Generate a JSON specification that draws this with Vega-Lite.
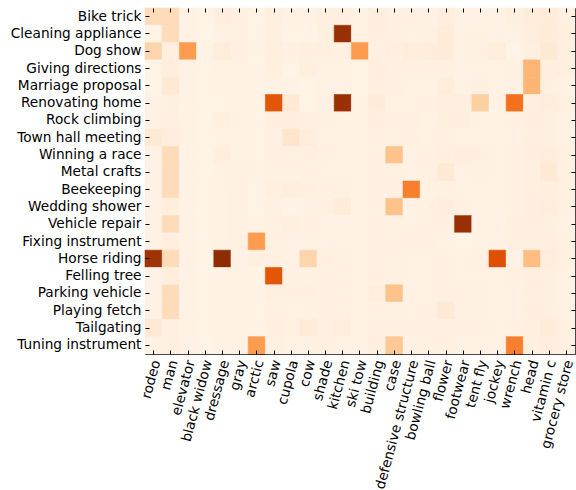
{
  "$schema": "https://vega.github.io/schema/vega-lite/v6.json",
  "width": 430,
  "height": 346,
  "autosize": "none",
  "padding": {"left": 145, "top": 8, "right": 1, "bottom": 136},
  "background": "white",
  "config": {
    "view": {"stroke": "black", "strokeWidth": 1},
    "axis": {"labelFont": "DejaVu Sans", "labelFontSize": 13.7, "labelColor": "black", "tickColor": "black", "tickSize": -4, "tickWidth": 1, "domain": false, "grid": false, "title": null, "labelOverlap": false, "labelPadding": 8, "labelLimit": 300}
  },
  "datasets": {
    "grid": [
      {"y":"Bike trick","x":"rodeo","v":0.18},{"y":"Bike trick","x":"man","v":0.18},{"y":"Bike trick","x":"elevator","v":0.03},{"y":"Bike trick","x":"black widow","v":0.02},{"y":"Bike trick","x":"dressage","v":0.06},{"y":"Bike trick","x":"gray","v":0.04},{"y":"Bike trick","x":"arctic","v":0.02},{"y":"Bike trick","x":"saw","v":0.05},{"y":"Bike trick","x":"cupola","v":0.03},{"y":"Bike trick","x":"cow","v":0.03},{"y":"Bike trick","x":"shade","v":0.05},{"y":"Bike trick","x":"kitchen","v":0.05},{"y":"Bike trick","x":"ski tow","v":0.03},{"y":"Bike trick","x":"building","v":0.06},{"y":"Bike trick","x":"case","v":0.04},{"y":"Bike trick","x":"defensive structure","v":0.04},{"y":"Bike trick","x":"bowling ball","v":0.03},{"y":"Bike trick","x":"flower","v":0.06},{"y":"Bike trick","x":"footwear","v":0.03},{"y":"Bike trick","x":"tent fly","v":0.03},{"y":"Bike trick","x":"jockey","v":0.03},{"y":"Bike trick","x":"wrench","v":0.05},{"y":"Bike trick","x":"head","v":0.07},{"y":"Bike trick","x":"vitamin c","v":0.08},{"y":"Bike trick","x":"grocery store","v":0.04},
      {"y":"Cleaning appliance","x":"rodeo","v":0.02},{"y":"Cleaning appliance","x":"man","v":0.18},{"y":"Cleaning appliance","x":"elevator","v":0.03},{"y":"Cleaning appliance","x":"black widow","v":0.02},{"y":"Cleaning appliance","x":"dressage","v":0.03},{"y":"Cleaning appliance","x":"gray","v":0.04},{"y":"Cleaning appliance","x":"arctic","v":0.02},{"y":"Cleaning appliance","x":"saw","v":0.05},{"y":"Cleaning appliance","x":"cupola","v":0.02},{"y":"Cleaning appliance","x":"cow","v":0.02},{"y":"Cleaning appliance","x":"shade","v":0.05},{"y":"Cleaning appliance","x":"kitchen","v":0.92},{"y":"Cleaning appliance","x":"ski tow","v":0.03},{"y":"Cleaning appliance","x":"building","v":0.05},{"y":"Cleaning appliance","x":"case","v":0.04},{"y":"Cleaning appliance","x":"defensive structure","v":0.03},{"y":"Cleaning appliance","x":"bowling ball","v":0.04},{"y":"Cleaning appliance","x":"flower","v":0.08},{"y":"Cleaning appliance","x":"footwear","v":0.03},{"y":"Cleaning appliance","x":"tent fly","v":0.04},{"y":"Cleaning appliance","x":"jockey","v":0.03},{"y":"Cleaning appliance","x":"wrench","v":0.03},{"y":"Cleaning appliance","x":"head","v":0.06},{"y":"Cleaning appliance","x":"vitamin c","v":0.08},{"y":"Cleaning appliance","x":"grocery store","v":0.05},
      {"y":"Dog show","x":"rodeo","v":0.22},{"y":"Dog show","x":"man","v":0.05},{"y":"Dog show","x":"elevator","v":0.45},{"y":"Dog show","x":"black widow","v":0.02},{"y":"Dog show","x":"dressage","v":0.07},{"y":"Dog show","x":"gray","v":0.04},{"y":"Dog show","x":"arctic","v":0.03},{"y":"Dog show","x":"saw","v":0.05},{"y":"Dog show","x":"cupola","v":0.04},{"y":"Dog show","x":"cow","v":0.05},{"y":"Dog show","x":"shade","v":0.05},{"y":"Dog show","x":"kitchen","v":0.04},{"y":"Dog show","x":"ski tow","v":0.45},{"y":"Dog show","x":"building","v":0.04},{"y":"Dog show","x":"case","v":0.05},{"y":"Dog show","x":"defensive structure","v":0.07},{"y":"Dog show","x":"bowling ball","v":0.07},{"y":"Dog show","x":"flower","v":0.08},{"y":"Dog show","x":"footwear","v":0.03},{"y":"Dog show","x":"tent fly","v":0.04},{"y":"Dog show","x":"jockey","v":0.07},{"y":"Dog show","x":"wrench","v":0.02},{"y":"Dog show","x":"head","v":0.05},{"y":"Dog show","x":"vitamin c","v":0.1},{"y":"Dog show","x":"grocery store","v":0.05},
      {"y":"Giving directions","x":"rodeo","v":0.02},{"y":"Giving directions","x":"man","v":0.06},{"y":"Giving directions","x":"elevator","v":0.03},{"y":"Giving directions","x":"black widow","v":0.02},{"y":"Giving directions","x":"dressage","v":0.03},{"y":"Giving directions","x":"gray","v":0.03},{"y":"Giving directions","x":"arctic","v":0.02},{"y":"Giving directions","x":"saw","v":0.05},{"y":"Giving directions","x":"cupola","v":0.02},{"y":"Giving directions","x":"cow","v":0.05},{"y":"Giving directions","x":"shade","v":0.03},{"y":"Giving directions","x":"kitchen","v":0.03},{"y":"Giving directions","x":"ski tow","v":0.02},{"y":"Giving directions","x":"building","v":0.06},{"y":"Giving directions","x":"case","v":0.04},{"y":"Giving directions","x":"defensive structure","v":0.04},{"y":"Giving directions","x":"bowling ball","v":0.04},{"y":"Giving directions","x":"flower","v":0.04},{"y":"Giving directions","x":"footwear","v":0.03},{"y":"Giving directions","x":"tent fly","v":0.03},{"y":"Giving directions","x":"jockey","v":0.03},{"y":"Giving directions","x":"wrench","v":0.04},{"y":"Giving directions","x":"head","v":0.35},{"y":"Giving directions","x":"vitamin c","v":0.05},{"y":"Giving directions","x":"grocery store","v":0.05},
      {"y":"Marriage proposal","x":"rodeo","v":0.02},{"y":"Marriage proposal","x":"man","v":0.1},{"y":"Marriage proposal","x":"elevator","v":0.03},{"y":"Marriage proposal","x":"black widow","v":0.02},{"y":"Marriage proposal","x":"dressage","v":0.03},{"y":"Marriage proposal","x":"gray","v":0.03},{"y":"Marriage proposal","x":"arctic","v":0.02},{"y":"Marriage proposal","x":"saw","v":0.03},{"y":"Marriage proposal","x":"cupola","v":0.03},{"y":"Marriage proposal","x":"cow","v":0.02},{"y":"Marriage proposal","x":"shade","v":0.03},{"y":"Marriage proposal","x":"kitchen","v":0.03},{"y":"Marriage proposal","x":"ski tow","v":0.02},{"y":"Marriage proposal","x":"building","v":0.04},{"y":"Marriage proposal","x":"case","v":0.04},{"y":"Marriage proposal","x":"defensive structure","v":0.03},{"y":"Marriage proposal","x":"bowling ball","v":0.03},{"y":"Marriage proposal","x":"flower","v":0.07},{"y":"Marriage proposal","x":"footwear","v":0.03},{"y":"Marriage proposal","x":"tent fly","v":0.05},{"y":"Marriage proposal","x":"jockey","v":0.03},{"y":"Marriage proposal","x":"wrench","v":0.03},{"y":"Marriage proposal","x":"head","v":0.35},{"y":"Marriage proposal","x":"vitamin c","v":0.05},{"y":"Marriage proposal","x":"grocery store","v":0.03},
      {"y":"Renovating home","x":"rodeo","v":0.03},{"y":"Renovating home","x":"man","v":0.05},{"y":"Renovating home","x":"elevator","v":0.03},{"y":"Renovating home","x":"black widow","v":0.02},{"y":"Renovating home","x":"dressage","v":0.02},{"y":"Renovating home","x":"gray","v":0.03},{"y":"Renovating home","x":"arctic","v":0.02},{"y":"Renovating home","x":"saw","v":0.7},{"y":"Renovating home","x":"cupola","v":0.1},{"y":"Renovating home","x":"cow","v":0.02},{"y":"Renovating home","x":"shade","v":0.04},{"y":"Renovating home","x":"kitchen","v":0.92},{"y":"Renovating home","x":"ski tow","v":0.03},{"y":"Renovating home","x":"building","v":0.08},{"y":"Renovating home","x":"case","v":0.03},{"y":"Renovating home","x":"defensive structure","v":0.03},{"y":"Renovating home","x":"bowling ball","v":0.04},{"y":"Renovating home","x":"flower","v":0.05},{"y":"Renovating home","x":"footwear","v":0.05},{"y":"Renovating home","x":"tent fly","v":0.25},{"y":"Renovating home","x":"jockey","v":0.03},{"y":"Renovating home","x":"wrench","v":0.6},{"y":"Renovating home","x":"head","v":0.05},{"y":"Renovating home","x":"vitamin c","v":0.07},{"y":"Renovating home","x":"grocery store","v":0.04},
      {"y":"Rock climbing","x":"rodeo","v":0.03},{"y":"Rock climbing","x":"man","v":0.04},{"y":"Rock climbing","x":"elevator","v":0.03},{"y":"Rock climbing","x":"black widow","v":0.02},{"y":"Rock climbing","x":"dressage","v":0.05},{"y":"Rock climbing","x":"gray","v":0.03},{"y":"Rock climbing","x":"arctic","v":0.02},{"y":"Rock climbing","x":"saw","v":0.05},{"y":"Rock climbing","x":"cupola","v":0.06},{"y":"Rock climbing","x":"cow","v":0.04},{"y":"Rock climbing","x":"shade","v":0.04},{"y":"Rock climbing","x":"kitchen","v":0.03},{"y":"Rock climbing","x":"ski tow","v":0.03},{"y":"Rock climbing","x":"building","v":0.05},{"y":"Rock climbing","x":"case","v":0.04},{"y":"Rock climbing","x":"defensive structure","v":0.04},{"y":"Rock climbing","x":"bowling ball","v":0.03},{"y":"Rock climbing","x":"flower","v":0.05},{"y":"Rock climbing","x":"footwear","v":0.05},{"y":"Rock climbing","x":"tent fly","v":0.03},{"y":"Rock climbing","x":"jockey","v":0.03},{"y":"Rock climbing","x":"wrench","v":0.04},{"y":"Rock climbing","x":"head","v":0.05},{"y":"Rock climbing","x":"vitamin c","v":0.05},{"y":"Rock climbing","x":"grocery store","v":0.03},
      {"y":"Town hall meeting","x":"rodeo","v":0.1},{"y":"Town hall meeting","x":"man","v":0.06},{"y":"Town hall meeting","x":"elevator","v":0.03},{"y":"Town hall meeting","x":"black widow","v":0.02},{"y":"Town hall meeting","x":"dressage","v":0.03},{"y":"Town hall meeting","x":"gray","v":0.03},{"y":"Town hall meeting","x":"arctic","v":0.02},{"y":"Town hall meeting","x":"saw","v":0.04},{"y":"Town hall meeting","x":"cupola","v":0.13},{"y":"Town hall meeting","x":"cow","v":0.07},{"y":"Town hall meeting","x":"shade","v":0.03},{"y":"Town hall meeting","x":"kitchen","v":0.03},{"y":"Town hall meeting","x":"ski tow","v":0.03},{"y":"Town hall meeting","x":"building","v":0.04},{"y":"Town hall meeting","x":"case","v":0.04},{"y":"Town hall meeting","x":"defensive structure","v":0.04},{"y":"Town hall meeting","x":"bowling ball","v":0.03},{"y":"Town hall meeting","x":"flower","v":0.04},{"y":"Town hall meeting","x":"footwear","v":0.03},{"y":"Town hall meeting","x":"tent fly","v":0.03},{"y":"Town hall meeting","x":"jockey","v":0.03},{"y":"Town hall meeting","x":"wrench","v":0.03},{"y":"Town hall meeting","x":"head","v":0.05},{"y":"Town hall meeting","x":"vitamin c","v":0.05},{"y":"Town hall meeting","x":"grocery store","v":0.03},
      {"y":"Winning a race","x":"rodeo","v":0.03},{"y":"Winning a race","x":"man","v":0.18},{"y":"Winning a race","x":"elevator","v":0.03},{"y":"Winning a race","x":"black widow","v":0.02},{"y":"Winning a race","x":"dressage","v":0.06},{"y":"Winning a race","x":"gray","v":0.03},{"y":"Winning a race","x":"arctic","v":0.02},{"y":"Winning a race","x":"saw","v":0.04},{"y":"Winning a race","x":"cupola","v":0.04},{"y":"Winning a race","x":"cow","v":0.05},{"y":"Winning a race","x":"shade","v":0.04},{"y":"Winning a race","x":"kitchen","v":0.03},{"y":"Winning a race","x":"ski tow","v":0.03},{"y":"Winning a race","x":"building","v":0.04},{"y":"Winning a race","x":"case","v":0.3},{"y":"Winning a race","x":"defensive structure","v":0.03},{"y":"Winning a race","x":"bowling ball","v":0.04},{"y":"Winning a race","x":"flower","v":0.05},{"y":"Winning a race","x":"footwear","v":0.06},{"y":"Winning a race","x":"tent fly","v":0.05},{"y":"Winning a race","x":"jockey","v":0.03},{"y":"Winning a race","x":"wrench","v":0.04},{"y":"Winning a race","x":"head","v":0.05},{"y":"Winning a race","x":"vitamin c","v":0.07},{"y":"Winning a race","x":"grocery store","v":0.04},
      {"y":"Metal crafts","x":"rodeo","v":0.03},{"y":"Metal crafts","x":"man","v":0.18},{"y":"Metal crafts","x":"elevator","v":0.03},{"y":"Metal crafts","x":"black widow","v":0.02},{"y":"Metal crafts","x":"dressage","v":0.03},{"y":"Metal crafts","x":"gray","v":0.04},{"y":"Metal crafts","x":"arctic","v":0.03},{"y":"Metal crafts","x":"saw","v":0.04},{"y":"Metal crafts","x":"cupola","v":0.03},{"y":"Metal crafts","x":"cow","v":0.04},{"y":"Metal crafts","x":"shade","v":0.03},{"y":"Metal crafts","x":"kitchen","v":0.03},{"y":"Metal crafts","x":"ski tow","v":0.03},{"y":"Metal crafts","x":"building","v":0.04},{"y":"Metal crafts","x":"case","v":0.04},{"y":"Metal crafts","x":"defensive structure","v":0.03},{"y":"Metal crafts","x":"bowling ball","v":0.04},{"y":"Metal crafts","x":"flower","v":0.1},{"y":"Metal crafts","x":"footwear","v":0.03},{"y":"Metal crafts","x":"tent fly","v":0.04},{"y":"Metal crafts","x":"jockey","v":0.03},{"y":"Metal crafts","x":"wrench","v":0.04},{"y":"Metal crafts","x":"head","v":0.05},{"y":"Metal crafts","x":"vitamin c","v":0.1},{"y":"Metal crafts","x":"grocery store","v":0.04},
      {"y":"Beekeeping","x":"rodeo","v":0.03},{"y":"Beekeeping","x":"man","v":0.18},{"y":"Beekeeping","x":"elevator","v":0.03},{"y":"Beekeeping","x":"black widow","v":0.02},{"y":"Beekeeping","x":"dressage","v":0.03},{"y":"Beekeeping","x":"gray","v":0.04},{"y":"Beekeeping","x":"arctic","v":0.02},{"y":"Beekeeping","x":"saw","v":0.05},{"y":"Beekeeping","x":"cupola","v":0.06},{"y":"Beekeeping","x":"cow","v":0.05},{"y":"Beekeeping","x":"shade","v":0.04},{"y":"Beekeeping","x":"kitchen","v":0.04},{"y":"Beekeeping","x":"ski tow","v":0.03},{"y":"Beekeeping","x":"building","v":0.04},{"y":"Beekeeping","x":"case","v":0.04},{"y":"Beekeeping","x":"defensive structure","v":0.55},{"y":"Beekeeping","x":"bowling ball","v":0.03},{"y":"Beekeeping","x":"flower","v":0.04},{"y":"Beekeeping","x":"footwear","v":0.03},{"y":"Beekeeping","x":"tent fly","v":0.03},{"y":"Beekeeping","x":"jockey","v":0.03},{"y":"Beekeeping","x":"wrench","v":0.04},{"y":"Beekeeping","x":"head","v":0.05},{"y":"Beekeeping","x":"vitamin c","v":0.06},{"y":"Beekeeping","x":"grocery store","v":0.04},
      {"y":"Wedding shower","x":"rodeo","v":0.03},{"y":"Wedding shower","x":"man","v":0.06},{"y":"Wedding shower","x":"elevator","v":0.03},{"y":"Wedding shower","x":"black widow","v":0.02},{"y":"Wedding shower","x":"dressage","v":0.03},{"y":"Wedding shower","x":"gray","v":0.04},{"y":"Wedding shower","x":"arctic","v":0.02},{"y":"Wedding shower","x":"saw","v":0.04},{"y":"Wedding shower","x":"cupola","v":0.02},{"y":"Wedding shower","x":"cow","v":0.03},{"y":"Wedding shower","x":"shade","v":0.04},{"y":"Wedding shower","x":"kitchen","v":0.08},{"y":"Wedding shower","x":"ski tow","v":0.03},{"y":"Wedding shower","x":"building","v":0.04},{"y":"Wedding shower","x":"case","v":0.3},{"y":"Wedding shower","x":"defensive structure","v":0.03},{"y":"Wedding shower","x":"bowling ball","v":0.04},{"y":"Wedding shower","x":"flower","v":0.06},{"y":"Wedding shower","x":"footwear","v":0.04},{"y":"Wedding shower","x":"tent fly","v":0.03},{"y":"Wedding shower","x":"jockey","v":0.03},{"y":"Wedding shower","x":"wrench","v":0.04},{"y":"Wedding shower","x":"head","v":0.05},{"y":"Wedding shower","x":"vitamin c","v":0.07},{"y":"Wedding shower","x":"grocery store","v":0.04},
      {"y":"Vehicle repair","x":"rodeo","v":0.03},{"y":"Vehicle repair","x":"man","v":0.18},{"y":"Vehicle repair","x":"elevator","v":0.03},{"y":"Vehicle repair","x":"black widow","v":0.02},{"y":"Vehicle repair","x":"dressage","v":0.03},{"y":"Vehicle repair","x":"gray","v":0.04},{"y":"Vehicle repair","x":"arctic","v":0.03},{"y":"Vehicle repair","x":"saw","v":0.04},{"y":"Vehicle repair","x":"cupola","v":0.05},{"y":"Vehicle repair","x":"cow","v":0.04},{"y":"Vehicle repair","x":"shade","v":0.03},{"y":"Vehicle repair","x":"kitchen","v":0.03},{"y":"Vehicle repair","x":"ski tow","v":0.03},{"y":"Vehicle repair","x":"building","v":0.04},{"y":"Vehicle repair","x":"case","v":0.04},{"y":"Vehicle repair","x":"defensive structure","v":0.03},{"y":"Vehicle repair","x":"bowling ball","v":0.04},{"y":"Vehicle repair","x":"flower","v":0.04},{"y":"Vehicle repair","x":"footwear","v":0.92},{"y":"Vehicle repair","x":"tent fly","v":0.03},{"y":"Vehicle repair","x":"jockey","v":0.03},{"y":"Vehicle repair","x":"wrench","v":0.05},{"y":"Vehicle repair","x":"head","v":0.05},{"y":"Vehicle repair","x":"vitamin c","v":0.05},{"y":"Vehicle repair","x":"grocery store","v":0.03},
      {"y":"Fixing instrument","x":"rodeo","v":0.03},{"y":"Fixing instrument","x":"man","v":0.06},{"y":"Fixing instrument","x":"elevator","v":0.03},{"y":"Fixing instrument","x":"black widow","v":0.02},{"y":"Fixing instrument","x":"dressage","v":0.03},{"y":"Fixing instrument","x":"gray","v":0.04},{"y":"Fixing instrument","x":"arctic","v":0.45},{"y":"Fixing instrument","x":"saw","v":0.04},{"y":"Fixing instrument","x":"cupola","v":0.03},{"y":"Fixing instrument","x":"cow","v":0.03},{"y":"Fixing instrument","x":"shade","v":0.03},{"y":"Fixing instrument","x":"kitchen","v":0.03},{"y":"Fixing instrument","x":"ski tow","v":0.03},{"y":"Fixing instrument","x":"building","v":0.04},{"y":"Fixing instrument","x":"case","v":0.04},{"y":"Fixing instrument","x":"defensive structure","v":0.04},{"y":"Fixing instrument","x":"bowling ball","v":0.04},{"y":"Fixing instrument","x":"flower","v":0.03},{"y":"Fixing instrument","x":"footwear","v":0.02},{"y":"Fixing instrument","x":"tent fly","v":0.03},{"y":"Fixing instrument","x":"jockey","v":0.03},{"y":"Fixing instrument","x":"wrench","v":0.05},{"y":"Fixing instrument","x":"head","v":0.05},{"y":"Fixing instrument","x":"vitamin c","v":0.05},{"y":"Fixing instrument","x":"grocery store","v":0.04},
      {"y":"Horse riding","x":"rodeo","v":0.9},{"y":"Horse riding","x":"man","v":0.18},{"y":"Horse riding","x":"elevator","v":0.03},{"y":"Horse riding","x":"black widow","v":0.02},{"y":"Horse riding","x":"dressage","v":0.95},{"y":"Horse riding","x":"gray","v":0.03},{"y":"Horse riding","x":"arctic","v":0.05},{"y":"Horse riding","x":"saw","v":0.04},{"y":"Horse riding","x":"cupola","v":0.03},{"y":"Horse riding","x":"cow","v":0.22},{"y":"Horse riding","x":"shade","v":0.05},{"y":"Horse riding","x":"kitchen","v":0.04},{"y":"Horse riding","x":"ski tow","v":0.03},{"y":"Horse riding","x":"building","v":0.04},{"y":"Horse riding","x":"case","v":0.04},{"y":"Horse riding","x":"defensive structure","v":0.03},{"y":"Horse riding","x":"bowling ball","v":0.03},{"y":"Horse riding","x":"flower","v":0.04},{"y":"Horse riding","x":"footwear","v":0.03},{"y":"Horse riding","x":"tent fly","v":0.04},{"y":"Horse riding","x":"jockey","v":0.72},{"y":"Horse riding","x":"wrench","v":0.03},{"y":"Horse riding","x":"head","v":0.32},{"y":"Horse riding","x":"vitamin c","v":0.07},{"y":"Horse riding","x":"grocery store","v":0.04},
      {"y":"Felling tree","x":"rodeo","v":0.03},{"y":"Felling tree","x":"man","v":0.06},{"y":"Felling tree","x":"elevator","v":0.03},{"y":"Felling tree","x":"black widow","v":0.02},{"y":"Felling tree","x":"dressage","v":0.03},{"y":"Felling tree","x":"gray","v":0.03},{"y":"Felling tree","x":"arctic","v":0.02},{"y":"Felling tree","x":"saw","v":0.7},{"y":"Felling tree","x":"cupola","v":0.04},{"y":"Felling tree","x":"cow","v":0.03},{"y":"Felling tree","x":"shade","v":0.04},{"y":"Felling tree","x":"kitchen","v":0.04},{"y":"Felling tree","x":"ski tow","v":0.03},{"y":"Felling tree","x":"building","v":0.04},{"y":"Felling tree","x":"case","v":0.04},{"y":"Felling tree","x":"defensive structure","v":0.03},{"y":"Felling tree","x":"bowling ball","v":0.03},{"y":"Felling tree","x":"flower","v":0.04},{"y":"Felling tree","x":"footwear","v":0.03},{"y":"Felling tree","x":"tent fly","v":0.03},{"y":"Felling tree","x":"jockey","v":0.03},{"y":"Felling tree","x":"wrench","v":0.04},{"y":"Felling tree","x":"head","v":0.05},{"y":"Felling tree","x":"vitamin c","v":0.05},{"y":"Felling tree","x":"grocery store","v":0.03},
      {"y":"Parking vehicle","x":"rodeo","v":0.03},{"y":"Parking vehicle","x":"man","v":0.18},{"y":"Parking vehicle","x":"elevator","v":0.03},{"y":"Parking vehicle","x":"black widow","v":0.02},{"y":"Parking vehicle","x":"dressage","v":0.03},{"y":"Parking vehicle","x":"gray","v":0.03},{"y":"Parking vehicle","x":"arctic","v":0.02},{"y":"Parking vehicle","x":"saw","v":0.05},{"y":"Parking vehicle","x":"cupola","v":0.05},{"y":"Parking vehicle","x":"cow","v":0.05},{"y":"Parking vehicle","x":"shade","v":0.04},{"y":"Parking vehicle","x":"kitchen","v":0.04},{"y":"Parking vehicle","x":"ski tow","v":0.03},{"y":"Parking vehicle","x":"building","v":0.07},{"y":"Parking vehicle","x":"case","v":0.3},{"y":"Parking vehicle","x":"defensive structure","v":0.03},{"y":"Parking vehicle","x":"bowling ball","v":0.03},{"y":"Parking vehicle","x":"flower","v":0.04},{"y":"Parking vehicle","x":"footwear","v":0.04},{"y":"Parking vehicle","x":"tent fly","v":0.04},{"y":"Parking vehicle","x":"jockey","v":0.03},{"y":"Parking vehicle","x":"wrench","v":0.03},{"y":"Parking vehicle","x":"head","v":0.05},{"y":"Parking vehicle","x":"vitamin c","v":0.05},{"y":"Parking vehicle","x":"grocery store","v":0.03},
      {"y":"Playing fetch","x":"rodeo","v":0.03},{"y":"Playing fetch","x":"man","v":0.18},{"y":"Playing fetch","x":"elevator","v":0.03},{"y":"Playing fetch","x":"black widow","v":0.02},{"y":"Playing fetch","x":"dressage","v":0.03},{"y":"Playing fetch","x":"gray","v":0.03},{"y":"Playing fetch","x":"arctic","v":0.02},{"y":"Playing fetch","x":"saw","v":0.04},{"y":"Playing fetch","x":"cupola","v":0.03},{"y":"Playing fetch","x":"cow","v":0.03},{"y":"Playing fetch","x":"shade","v":0.04},{"y":"Playing fetch","x":"kitchen","v":0.04},{"y":"Playing fetch","x":"ski tow","v":0.03},{"y":"Playing fetch","x":"building","v":0.04},{"y":"Playing fetch","x":"case","v":0.04},{"y":"Playing fetch","x":"defensive structure","v":0.03},{"y":"Playing fetch","x":"bowling ball","v":0.04},{"y":"Playing fetch","x":"flower","v":0.1},{"y":"Playing fetch","x":"footwear","v":0.04},{"y":"Playing fetch","x":"tent fly","v":0.04},{"y":"Playing fetch","x":"jockey","v":0.03},{"y":"Playing fetch","x":"wrench","v":0.03},{"y":"Playing fetch","x":"head","v":0.05},{"y":"Playing fetch","x":"vitamin c","v":0.05},{"y":"Playing fetch","x":"grocery store","v":0.03},
      {"y":"Tailgating","x":"rodeo","v":0.1},{"y":"Tailgating","x":"man","v":0.04},{"y":"Tailgating","x":"elevator","v":0.03},{"y":"Tailgating","x":"black widow","v":0.02},{"y":"Tailgating","x":"dressage","v":0.03},{"y":"Tailgating","x":"gray","v":0.03},{"y":"Tailgating","x":"arctic","v":0.02},{"y":"Tailgating","x":"saw","v":0.05},{"y":"Tailgating","x":"cupola","v":0.04},{"y":"Tailgating","x":"cow","v":0.08},{"y":"Tailgating","x":"shade","v":0.04},{"y":"Tailgating","x":"kitchen","v":0.07},{"y":"Tailgating","x":"ski tow","v":0.03},{"y":"Tailgating","x":"building","v":0.04},{"y":"Tailgating","x":"case","v":0.04},{"y":"Tailgating","x":"defensive structure","v":0.04},{"y":"Tailgating","x":"bowling ball","v":0.04},{"y":"Tailgating","x":"flower","v":0.04},{"y":"Tailgating","x":"footwear","v":0.04},{"y":"Tailgating","x":"tent fly","v":0.04},{"y":"Tailgating","x":"jockey","v":0.03},{"y":"Tailgating","x":"wrench","v":0.04},{"y":"Tailgating","x":"head","v":0.05},{"y":"Tailgating","x":"vitamin c","v":0.08},{"y":"Tailgating","x":"grocery store","v":0.04},
      {"y":"Tuning instrument","x":"rodeo","v":0.03},{"y":"Tuning instrument","x":"man","v":0.05},{"y":"Tuning instrument","x":"elevator","v":0.03},{"y":"Tuning instrument","x":"black widow","v":0.02},{"y":"Tuning instrument","x":"dressage","v":0.03},{"y":"Tuning instrument","x":"gray","v":0.03},{"y":"Tuning instrument","x":"arctic","v":0.45},{"y":"Tuning instrument","x":"saw","v":0.04},{"y":"Tuning instrument","x":"cupola","v":0.03},{"y":"Tuning instrument","x":"cow","v":0.03},{"y":"Tuning instrument","x":"shade","v":0.04},{"y":"Tuning instrument","x":"kitchen","v":0.03},{"y":"Tuning instrument","x":"ski tow","v":0.03},{"y":"Tuning instrument","x":"building","v":0.05},{"y":"Tuning instrument","x":"case","v":0.28},{"y":"Tuning instrument","x":"defensive structure","v":0.03},{"y":"Tuning instrument","x":"bowling ball","v":0.04},{"y":"Tuning instrument","x":"flower","v":0.04},{"y":"Tuning instrument","x":"footwear","v":0.03},{"y":"Tuning instrument","x":"tent fly","v":0.03},{"y":"Tuning instrument","x":"jockey","v":0.03},{"y":"Tuning instrument","x":"wrench","v":0.55},{"y":"Tuning instrument","x":"head","v":0.05},{"y":"Tuning instrument","x":"vitamin c","v":0.06},{"y":"Tuning instrument","x":"grocery store","v":0.04}
    ]
  },
  "data": {"name": "grid"},
  "layer": [
    {
      "mark": {"type": "rect", "strokeWidth": 0.6},
      "encoding": {
        "x": {"field": "x", "type": "nominal", "sort": null, "axis": {"orient": "bottom", "labelAngle": -75, "labelAlign": "right", "labelBaseline": "middle", "labelPadding": 10, "labelOffset": 3}},
        "y": {"field": "y", "type": "nominal", "sort": null, "axis": {"orient": "left"}},
        "fill": {"field": "v", "type": "quantitative", "scale": {"domain": [0, 1], "range": ["#fff5eb", "#fee6ce", "#fdd0a2", "#fdae6b", "#fd8d3c", "#f16913", "#d94801", "#a63603", "#7f2704"]}, "legend": null},
        "stroke": {"field": "v", "type": "quantitative", "scale": {"domain": [0, 1], "range": ["#fff5eb", "#fee6ce", "#fdd0a2", "#fdae6b", "#fd8d3c", "#f16913", "#d94801", "#a63603", "#7f2704"]}, "legend": null}
      }
    },
    {
      "mark": {"type": "rect", "opacity": 0},
      "encoding": {
        "x": {"field": "x", "type": "nominal", "sort": null, "axis": {"orient": "top", "labels": false}},
        "y": {"field": "y", "type": "nominal", "sort": null, "axis": {"orient": "right", "labels": false}}
      }
    }
  ],
  "resolve": {"axis": {"x": "independent", "y": "independent"}}
}
